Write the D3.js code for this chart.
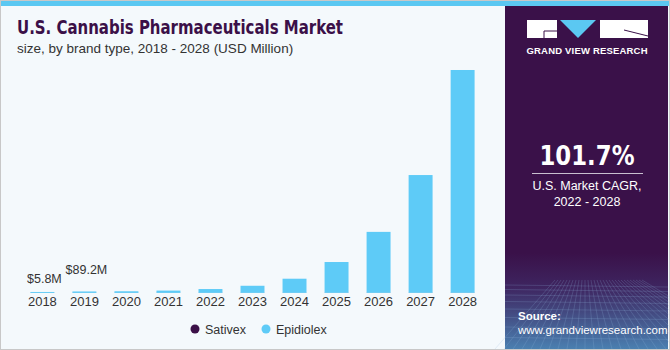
<!DOCTYPE html>
<meta charset="utf-8" />
<script src="https://d3js.org/d3.v7.min.js"></script>
<style>
  body { margin: 0; }
</style>
<div id="chart"></div>
<script>
  // data (USD Million)
  const years = ["2018", "2019", "2020", "2021", "2022", "2023", "2024", "2025", "2026", "2027", "2028"];
  const sativex = [5.8, 6.2, 6.5, 7.0, 7.5, 8.0, 8.6, 9.2, 9.8, 10.5, 11.2];
  const epidiolex = [54, 83, 94, 133, 222, 412, 821, 1790, 3540, 6840, 12940];
  const barLabels = ["$5.8M", "$89.2M"];
  const seriesNames = ["Sativex", "Epidiolex"];
  const seriesColors = ["#3b1048", "#5ecbf7"];

  const W = 670, H = 350;
  const svg = d3.select("#chart").append("svg")
    .attr("width", W).attr("height", H)
    .style("font-family", "'Liberation Sans', Arial, sans-serif");

  // frame
  svg.append("rect").attr("x", 0.5).attr("y", 0.5).attr("width", W - 1).attr("height", H - 1)
    .attr("fill", "#f4f9fc").attr("stroke", "#c8c8c8");
  svg.append("rect").attr("x", 1).attr("y", 1).attr("width", W - 2).attr("height", 5).attr("fill", "#5bc8f2");

  // title
  svg.append("text").attr("x", 17).attr("y", 34)
    .attr("font-family", "'DejaVu Sans', sans-serif").attr("font-weight", "bold")
    .attr("font-size", 19).attr("fill", "#3b1048")
    .attr("textLength", 326).attr("lengthAdjust", "spacingAndGlyphs")
    .text("U.S. Cannabis Pharmaceuticals Market");
  svg.append("text").attr("x", 17).attr("y", 53)
    .attr("font-size", 13.5).attr("fill", "#333")
    .text("size, by brand type, 2018 - 2028 (USD Million)");

  // chart
  const table = years.map((y, i) => ({ year: y, Sativex: sativex[i], Epidiolex: epidiolex[i] }));
  const stacked = d3.stack().keys(seriesNames)(table);
  const color = d3.scaleOrdinal().domain(seriesNames).range(seriesColors);

  const x = d3.scaleBand().domain(years).range([22, 483]).paddingInner(0.43).paddingOuter(0.2);
  const y = d3.scaleLinear().domain([0, 12951]).range([293, 70]);

  svg.append("g").selectAll("g").data(stacked).join("g")
    .attr("fill", d => color(d.key))
    .selectAll("rect").data(d => d).join("rect")
    .attr("x", d => x(d.data.year))
    .attr("width", x.bandwidth())
    .attr("y", d => y(d[1]))
    .attr("height", d => y(d[0]) - y(d[1]));

  const xAxis = svg.append("g").attr("transform", "translate(0,293)")
    .call(d3.axisBottom(x).tickSize(0).tickPadding(4));
  xAxis.select(".domain").remove();
  xAxis.selectAll("text").attr("font-size", 13).attr("fill", "#333")
    .attr("font-family", "'Liberation Sans', Arial, sans-serif");

  // value labels
  svg.append("text").attr("x", x("2018") + x.bandwidth() / 2 + 2).attr("y", 283)
    .attr("text-anchor", "middle").attr("font-size", 12.5).attr("fill", "#333").text(barLabels[0]);
  svg.append("text").attr("x", x("2019") + x.bandwidth() / 2 + 2).attr("y", 274)
    .attr("text-anchor", "middle").attr("font-size", 12.5).attr("fill", "#333").text(barLabels[1]);

  // legend
  const legend = svg.append("g").attr("transform", "translate(195,329)");
  const lg = legend.selectAll("g").data(seriesNames).join("g")
    .attr("transform", (d, i) => `translate(${i * 71},0)`);
  lg.append("circle").attr("r", 4.5).attr("fill", d => color(d));
  lg.append("text").attr("x", 10).attr("y", 4.5).attr("font-size", 12.5).attr("fill", "#333").text(d => d);

  // right panel
  const px = 505, pw = 163;
  const defs = svg.append("defs");
  const grad = defs.append("linearGradient").attr("id", "pg").attr("x1", 0).attr("y1", 0).attr("x2", 0).attr("y2", 1);
  grad.append("stop").attr("offset", "0").attr("stop-color", "#3a1149");
  grad.append("stop").attr("offset", "0.72").attr("stop-color", "#3a1149");
  grad.append("stop").attr("offset", "0.82").attr("stop-color", "#3e2560");
  grad.append("stop").attr("offset", "1").attr("stop-color", "#4a7fb0");
  svg.append("rect").attr("x", px).attr("y", 6).attr("width", pw).attr("height", 343).attr("fill", "url(#pg)");

  // faint grid at the bottom of the panel
  const gridG = svg.append("g").attr("stroke", "#8fb8dd").attr("stroke-opacity", 0.35).attr("stroke-width", 0.6);
  d3.range(0, 12).forEach(i => {
    const yy = 285 + i * i * 0.5 + i * 4;
    if (yy < 349) gridG.append("line").attr("x1", px).attr("x2", px + pw).attr("y1", yy).attr("y2", yy + 2);
  });
  d3.range(-10, 20).forEach(i => {
    const cx = px + 80 + i * 9;
    gridG.append("line").attr("x1", px + 80 + i * 3).attr("y1", 280).attr("x2", cx).attr("y2", 349);
  });

  // logo
  svg.append("rect").attr("x", 527).attr("y", 20).attr("width", 30).attr("height", 18).attr("fill", "#fff");
  svg.append("path").attr("d", "M560,20 L596,20 L578,38 Z").attr("fill", "#5bc8f2");
  svg.append("rect").attr("x", 600).attr("y", 20).attr("width", 48).attr("height", 18).attr("fill", "#fff");
  svg.append("path").attr("d", "M544,31 L557,31 M544,31 L544,38").attr("stroke", "#3a1149").attr("stroke-width", 1);
  svg.append("path").attr("d", "M624,30 L648,36").attr("stroke", "#3a1149").attr("stroke-width", 1);
  svg.append("text").attr("x", 587).attr("y", 54).attr("text-anchor", "middle")
    .attr("font-size", 9.5).attr("font-weight", "bold").attr("fill", "#fff")
    .attr("textLength", 121).text("GRAND VIEW RESEARCH");

  // CAGR
  svg.append("text").attr("x", 587).attr("y", 165).attr("text-anchor", "middle")
    .attr("font-family", "'DejaVu Sans', sans-serif")
    .attr("font-size", 26).attr("font-weight", "bold").attr("fill", "#fff")
    .attr("textLength", 95).attr("lengthAdjust", "spacingAndGlyphs").text("101.7%");
  svg.append("line").attr("x1", 532).attr("x2", 643).attr("y1", 173.5).attr("y2", 173.5)
    .attr("stroke", "#c9c0d0").attr("stroke-width", 1);
  svg.append("text").attr("x", 587).attr("y", 190).attr("text-anchor", "middle")
    .attr("font-size", 12.5).attr("fill", "#fff").text("U.S. Market CAGR,");
  svg.append("text").attr("x", 587).attr("y", 206).attr("text-anchor", "middle")
    .attr("font-size", 12.5).attr("fill", "#fff").text("2022 - 2028");

  // source
  svg.append("text").attr("x", 518).attr("y", 320).attr("font-size", 11.5).attr("font-weight", "bold")
    .attr("fill", "#fff").text("Source:");
  svg.append("text").attr("x", 518).attr("y", 334).attr("font-size", 11.5)
    .attr("fill", "#fff").text("www.grandviewresearch.com");
</script>
